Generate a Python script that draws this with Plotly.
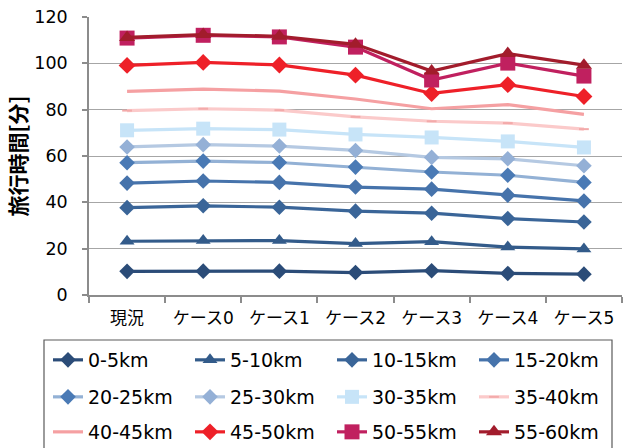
import plotly.graph_objects as go

categories = ["現況", "ケース0", "ケース1", "ケース2", "ケース3", "ケース4", "ケース5"]

series_names = ["0-5km", "5-10km", "10-15km", "15-20km", "20-25km", "25-30km",
                "30-35km", "35-40km", "40-45km", "45-50km", "50-55km", "55-60km"]

v_0_5 = [10.2, 10.3, 10.3, 9.7, 10.5, 9.3, 9.0]
v_5_10 = [23.2, 23.5, 23.5, 22.2, 23.0, 20.7, 19.9]
v_10_15 = [37.7, 38.5, 37.9, 36.2, 35.3, 33.0, 31.5]
v_15_20 = [48.3, 49.2, 48.6, 46.6, 45.7, 43.1, 40.6]
v_20_25 = [57.1, 57.8, 57.2, 55.2, 53.1, 51.7, 48.6]
v_25_30 = [63.9, 64.9, 64.3, 62.4, 59.4, 58.8, 55.8]
v_30_35 = [71.1, 71.8, 71.4, 69.3, 68.0, 66.3, 63.7]
v_35_40 = [79.6, 80.4, 79.8, 76.9, 75.0, 74.2, 71.6]
v_40_45 = [87.9, 88.9, 88.0, 84.6, 80.4, 82.2, 78.0]
v_45_50 = [99.1, 100.4, 99.3, 94.9, 87.0, 90.8, 85.7]
v_50_55 = [110.9, 112.1, 111.4, 107.0, 92.8, 100.1, 94.5]
v_55_60 = [111.2, 112.4, 111.7, 108.2, 96.7, 104.2, 99.2]

values = [v_0_5, v_5_10, v_10_15, v_15_20, v_20_25, v_25_30,
          v_30_35, v_35_40, v_40_45, v_45_50, v_50_55, v_55_60]

line_colors = ["#2b4c78", "#335b8a", "#3a6598", "#4673ab", "#93b1d5", "#b5c9e2",
               "#c7e4f8", "#fbcaca", "#f5a0a2", "#ee2028", "#c0205f", "#a21c2c"]
marker_colors = ["#2b4c78", "#335b8a", "#3a6598", "#4673ab", "#4a7ab5", "#94b0d6",
                 "#c7e4f8", "#f3aaaa", "#f5a0a2", "#ee2028", "#c0205f", "#a21c2c"]
symbols = ["diamond", "triangle-up", "diamond", "diamond", "diamond", "diamond",
           "square", "line-ew-open", None, "diamond", "square", "triangle-up"]
sizes = [12, 13, 12, 12, 12, 12, 14, 7, 0, 13, 15, 14]

FONT = "DejaVu Sans, Noto Sans CJK JP, sans-serif"
CJK_FONT = "Noto Sans CJK JP, sans-serif"

fig = go.Figure()
for i, (name, vals) in enumerate(zip(series_names, values)):
    row = i // 4
    legend_id = "legend" if row == 0 else f"legend{row + 1}"
    marker = dict(color=marker_colors[i], size=sizes[i])
    if symbols[i] is not None:
        marker["symbol"] = symbols[i]
        if symbols[i] == "line-ew-open":
            marker["line"] = dict(color=marker_colors[i], width=2)
    mode = "lines+markers" if symbols[i] is not None else "lines"
    fig.add_trace(go.Scatter(
        x=categories, y=vals, name=name, mode=mode,
        line=dict(color=line_colors[i], width=3.2),
        marker=marker, legend=legend_id,
    ))

L, R, T, B = 89, 6, 17, 153
W, H = 628, 448
pw = W - L - R
ph = H - T - B

def px_x(x):
    return (x - L) / pw

def px_y(y):
    return (H - B - y) / ph

legend_common = dict(
    orientation="h", xanchor="left", yanchor="middle",
    font=dict(family=FONT, size=19, color="#000000"),
    bgcolor="rgba(0,0,0,0)", borderwidth=0,
    entrywidth=97, entrywidthmode="pixels",
    itemsizing="trace", tracegroupgap=0,
)

fig.update_layout(
    width=W, height=H,
    margin=dict(l=L, r=R, t=T, b=B, autoexpand=False),
    paper_bgcolor="white", plot_bgcolor="white",
    font=dict(family=FONT, color="#000000"),
    showlegend=True,
    legend=dict(x=px_x(48), y=px_y(360), **legend_common),
    legend2=dict(x=px_x(48), y=px_y(397), **legend_common),
    legend3=dict(x=px_x(48), y=px_y(432), **legend_common),
    xaxis=dict(
        type="category", tickson="boundaries",
        showline=True, linecolor="#8c8c8c", linewidth=1.5,
        ticks="outside", ticklen=6, tickcolor="#8c8c8c", tickwidth=1.5,
        tickfont=dict(family=FONT, size=17, color="#000000"),
        ticklabelstandoff=7,
        showgrid=False, range=[-0.5, 6.5],
    ),
    yaxis=dict(
        range=[0, 120], dtick=20,
        showline=True, linecolor="#8c8c8c", linewidth=1.5,
        ticks="outside", ticklen=5, tickcolor="#8c8c8c", tickwidth=1.5,
        showgrid=True, gridcolor="#a6a6a6", gridwidth=1.2,
        tickfont=dict(family=FONT, size=17.5, color="#000000"),
        ticklabelstandoff=11,
        title=dict(text="<b>旅行時間[分]</b>", font=dict(family=CJK_FONT, size=21), standoff=2),
        zeroline=False,
    ),
    shapes=[dict(
        type="rect", xref="paper", yref="paper",
        x0=px_x(44), x1=px_x(612), y0=px_y(452), y1=px_y(340),
        line=dict(color="#5a5a5a", width=1.2), fillcolor="rgba(0,0,0,0)",
    )],
)

fig.write_html("out.html")
